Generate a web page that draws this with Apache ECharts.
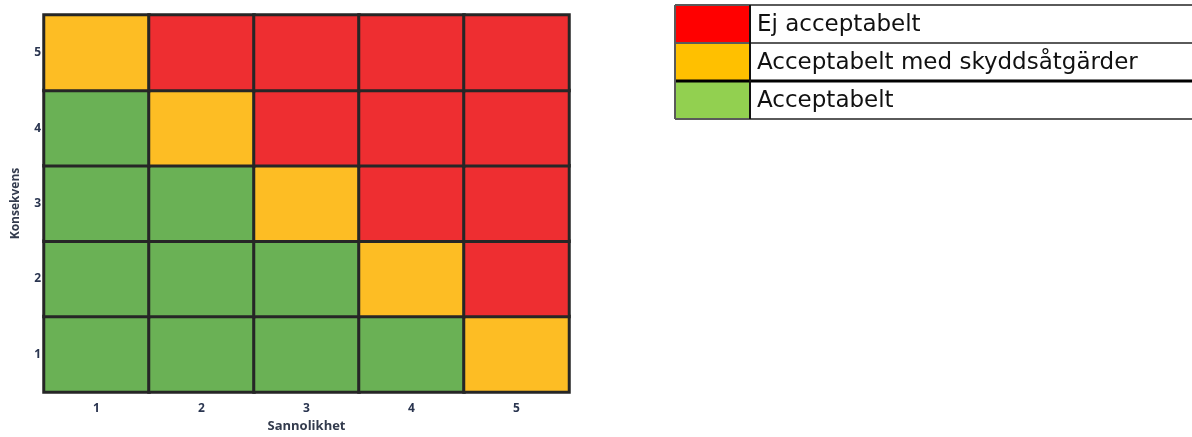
<!DOCTYPE html>
<html>
<head>
<meta charset="utf-8">
<script src="https://cdn.jsdelivr.net/npm/echarts@6/dist/echarts.min.js"></script>
<style>
  html, body { margin: 0; padding: 0; background: #fff; }
  #riskMatrix { width: 1192px; height: 437px; }
</style>
</head>
<body>
<div id="riskMatrix"></div>
<script>
// axis categories
var sannolikhet = ['1', '2', '3', '4', '5'];
var konsekvens = ['1', '2', '3', '4', '5'];
// risk level per cell, row by row from konsekvens 5 down to 1 (0 = ok, 1 = skydd, 2 = ej ok)
var row5 = [1, 2, 2, 2, 2];
var row4 = [0, 1, 2, 2, 2];
var row3 = [0, 0, 1, 2, 2];
var row2 = [0, 0, 0, 1, 2];
var row1 = [0, 0, 0, 0, 1];
// legend texts, top to bottom
var legendLabels = ['Ej acceptabelt', 'Acceptabelt med skyddsåtgärder', 'Acceptabelt'];

var cellColors = ['#6ab155', '#fdbd24', '#ee2e31'];
var legendColors = ['#ff0000', '#ffc000', '#92d050'];

var rows = [row1, row2, row3, row4, row5];
var cells = [];
rows.forEach(function (row, y) {
  row.forEach(function (level, x) {
    cells.push([x, y, level]);
  });
});

var myChart = echarts.init(document.getElementById('riskMatrix'));

// legend table on the right
var legendLeft = 675, legendTop = 5, rowH = 38, swatchW = 75;
var graphics = [];
legendLabels.forEach(function (label, i) {
  var y = legendTop + i * rowH;
  graphics.push({
    type: 'rect',
    shape: { x: legendLeft, y: y, width: swatchW, height: rowH },
    style: { fill: legendColors[i] }
  });
  graphics.push({
    type: 'text',
    x: 757,
    y: y + rowH / 2 + 1,
    style: {
      text: label,
      fill: '#111',
      font: '23px "DejaVu Sans"',
      verticalAlign: 'middle'
    }
  });
});
// table lines
[0, 1, 3].forEach(function (i) {
  var y = legendTop + i * rowH;
  graphics.push({
    type: 'line',
    shape: { x1: legendLeft, y1: y, x2: 1192, y2: y },
    style: { stroke: '#5a5a5a', lineWidth: 2 }
  });
});
graphics.push({
  type: 'line',
  shape: { x1: legendLeft, y1: legendTop + 2 * rowH, x2: 1192, y2: legendTop + 2 * rowH },
  style: { stroke: '#000', lineWidth: 3 }
});
graphics.push({
  type: 'line',
  shape: { x1: legendLeft, y1: legendTop, x2: legendLeft, y2: legendTop + 3 * rowH },
  style: { stroke: '#5a5a5a', lineWidth: 2 }
});
graphics.push({
  type: 'line',
  shape: { x1: legendLeft + swatchW, y1: legendTop, x2: legendLeft + swatchW, y2: legendTop + 3 * rowH },
  style: { stroke: '#111', lineWidth: 2 }
});

myChart.setOption({
  animation: false,
  grid: {
    left: 44,
    top: 15,
    right: 623,
    bottom: 45,
    outerBoundsMode: 'none'
  },
  xAxis: {
    type: 'category',
    data: sannolikhet,
    name: 'Sannolikhet',
    nameLocation: 'middle',
    nameGap: 28,
    nameTextStyle: { color: '#333b4d', fontSize: 13, fontWeight: 'bold', fontFamily: 'Open Sans' },
    axisLine: { show: false },
    axisTick: { show: false },
    axisLabel: { margin: 11, color: '#2a3550', fontSize: 12, fontWeight: 'bold', fontFamily: 'Open Sans' },
    splitArea: { show: false }
  },
  yAxis: {
    type: 'category',
    data: konsekvens,
    name: 'Konsekvens',
    nameLocation: 'middle',
    nameGap: 22,
    nameTextStyle: { color: '#333b4d', fontSize: 12, fontWeight: 'bold', fontFamily: 'Open Sans' },
    axisLine: { show: false },
    axisTick: { show: false },
    axisLabel: { margin: 3, color: '#2a3550', fontSize: 12, fontWeight: 'bold', fontFamily: 'Open Sans' },
    splitArea: { show: false }
  },
  visualMap: {
    show: false,
    type: 'piecewise',
    dimension: 2,
    pieces: [
      { value: 0, color: cellColors[0] },
      { value: 1, color: cellColors[1] },
      { value: 2, color: cellColors[2] }
    ]
  },
  series: [
    {
      type: 'heatmap',
      data: cells,
      itemStyle: {
        borderColor: '#262626',
        borderWidth: 3
      },
      emphasis: { disabled: true }
    }
  ],
  graphic: graphics
});
</script>
</body>
</html>
